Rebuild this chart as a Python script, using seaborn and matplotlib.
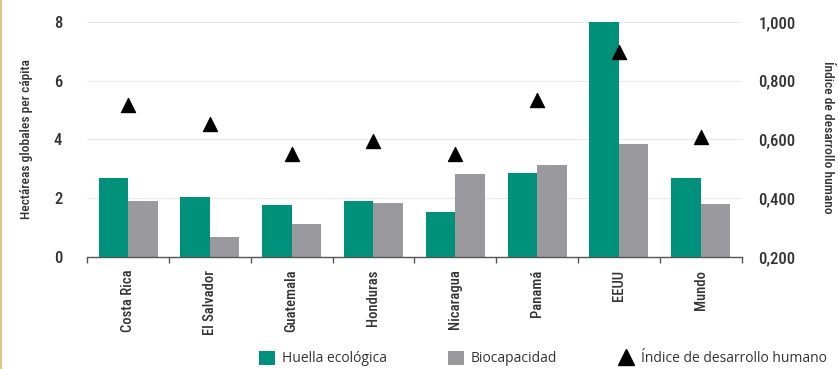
import matplotlib
matplotlib.use("Agg")
import matplotlib.pyplot as plt
import matplotlib.ticker as mticker
from matplotlib import font_manager
from matplotlib.font_manager import FontProperties
from matplotlib.patches import Patch
from matplotlib.lines import Line2D
import seaborn as sns
import pandas as pd
import os

categories = ["Costa Rica", "El Salvador", "Guatemala", "Honduras", "Nicaragua", "Panamá", "EEUU", "Mundo"]
huella = [2.68, 2.03, 1.77, 1.92, 1.54, 2.86, 8.0, 2.68]
biocapacidad = [1.91, 0.68, 1.12, 1.84, 2.81, 3.14, 3.86, 1.79]
idh = [0.717, 0.651, 0.549, 0.594, 0.552, 0.734, 0.897, 0.609]

series_names = ["Huella ecológica", "Biocapacidad"]
idh_name = "Índice de desarrollo humano"
green = "#00917A"
gray = "#9A999E"

sns.set_theme(style="white")
plt.rcParams["font.family"] = ["Open Sans", "DejaVu Sans"]

# look for a condensed face
files = sorted({f.fname for f in font_manager.fontManager.ttflist})
files += sorted(font_manager.findSystemFonts())
def find(keys_family, keys_style):
    for fam in keys_family:
        for st in keys_style:
            for p in files:
                b = os.path.basename(p).lower().replace(" ", "").replace("_", "-")
                if fam in b and st(b):
                    return p
    return None
fams = ["robotocondensed", "opensanscondensed", "opensans-condensed", "notosans-condensed", "notosanscondensed",
        "liberationsansnarrow", "dejavusanscondensed", "condensed", "narrow"]
bold_p = find(fams, [lambda b: "semibold" in b and "italic" not in b,
                     lambda b: "medium" in b and "italic" not in b,
                     lambda b: "bold" in b and "italic" not in b and "extra" not in b])
reg_p = find(fams, [lambda b: ("regular" in b or b.endswith("condensed.ttf") or b.endswith("narrow.ttf")) and "italic" not in b])
found = bold_p is not None
if found:
    def fb(size): return FontProperties(fname=bold_p, size=size)
    def fr(size): return FontProperties(fname=(reg_p or bold_p), size=size)
    s_cat, s_num, s_lab = 10.5, 12, 9.7
else:
    def fb(size): return FontProperties(family="Liberation Sans", weight="bold", size=size)
    def fr(size): return FontProperties(family="Liberation Sans", size=size)
    s_cat, s_num, s_lab = 9.5, 11.5, 8.5

df = pd.DataFrame({
    "pais": categories * 2,
    "valor": huella + biocapacidad,
    "serie": [series_names[0]] * len(categories) + [series_names[1]] * len(categories),
})

fig = plt.figure(figsize=(8.38, 3.69), dpi=100)
fig.patch.set_facecolor("#FFFFFF")
ax = fig.add_axes([0.104, 0.3035, 0.781, 0.637])
sns.barplot(data=df, x="pais", y="valor", hue="serie", palette=[green, gray],
            width=0.72, saturation=1, linewidth=0, ax=ax, legend=False)
ax.set_ylim(0, 8)
ax.set_xlim(-0.5, len(categories) - 0.5)
ax.set_yticks([0, 2, 4, 6, 8])
ax.yaxis.grid(True, color="#E8E8E8", linewidth=0.8)
ax.set_axisbelow(True)
for s in ["left", "right", "top"]:
    ax.spines[s].set_visible(False)
ax.spines["bottom"].set_color("#555555")
ax.spines["bottom"].set_linewidth(1.0)
ax.set_xlabel("")
ax.set_ylabel("Hectáreas globales per cápita", fontproperties=fb(s_lab), color="#333333")
ax.yaxis.set_label_coords(-0.082, 0.5)
ax.tick_params(axis="x", which="major", length=0, pad=9)
ax.set_xticks([i - 0.5 for i in range(len(categories) + 1)], minor=True)
ax.tick_params(axis="x", which="minor", length=4, width=1, color="#555555", bottom=True, direction="out")
ax.tick_params(axis="y", length=0, pad=18)
ax.set_xticks(range(len(categories)))
ax.set_xticklabels(categories, rotation=90, color="#333333")
for lab in ax.get_xticklabels():
    lab.set_fontproperties(fb(s_cat))
for lab in ax.get_yticklabels():
    lab.set_fontproperties(fb(s_num)); lab.set_color("#333333")

ax2 = ax.twinx()
sns.scatterplot(x=list(range(len(categories))), y=idh, marker="^", color="black", s=105,
                edgecolor="black", ax=ax2, zorder=5, legend=False)
ax2.set_ylim(0.2, 1.0)
ax2.set_yticks([0.2, 0.4, 0.6, 0.8, 1.0])
ax2.yaxis.set_major_formatter(mticker.FuncFormatter(lambda v, p: f"{v:.3f}".replace(".", ",")))
for s in ["left", "right", "top", "bottom"]:
    ax2.spines[s].set_visible(False)
ax2.tick_params(axis="y", length=0, pad=12)
for lab in ax2.get_yticklabels():
    lab.set_fontproperties(fb(s_num)); lab.set_color("#333333")
ax2.set_ylabel(idh_name, fontproperties=fb(s_lab), color="#333333", rotation=270, va="center")
ax2.yaxis.set_label_coords(1.131, 0.51)
ax2.grid(False)

handles = [Patch(facecolor=green, edgecolor="none"), Patch(facecolor=gray, edgecolor="none"),
           Line2D([], [], marker="^", linestyle="none", color="black", markersize=11)]
fig.legend(handles, series_names + [idh_name], loc="center left", bbox_to_anchor=(0.309, 0.028), ncol=3,
           frameon=False, prop=FontProperties(family="Open Sans", size=10), handlelength=1.15,
           handleheight=1.15, handletextpad=0.5, columnspacing=4.4, labelcolor="#333333",
           borderpad=0, borderaxespad=0)

fig.add_artist(Line2D([0.0012, 0.0012], [0, 1], color="#D8C98A", linewidth=1.5, transform=fig.transFigure))
fig.savefig("out.png", dpi=100)
